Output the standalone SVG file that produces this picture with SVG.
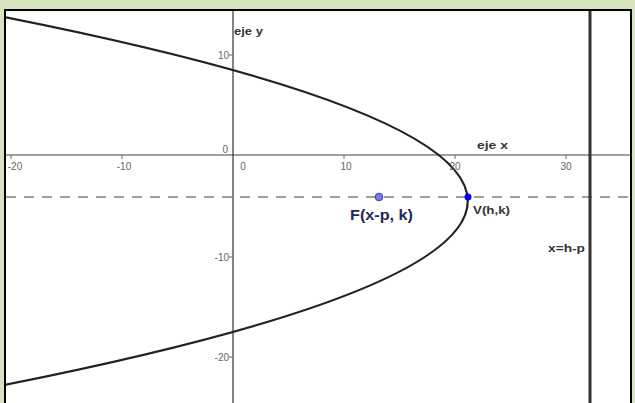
<svg xmlns="http://www.w3.org/2000/svg" width="635" height="403" viewBox="0 0 635 403">
<style>
.tick{font-family:"Liberation Sans",Arial,sans-serif;font-size:10px;fill:#666}
.lab{font-family:"Liberation Sans",Arial,sans-serif;font-weight:bold;fill:#333}
.tk{stroke:#666;stroke-width:1}
</style>
<defs>
<clipPath id="plot"><rect x="6" y="11" width="624" height="392"/></clipPath>
</defs>
<rect x="0" y="0" width="635" height="403" fill="#d6e3bc"/>
<rect x="5" y="10" width="626" height="400" fill="#ffffff" stroke="#000" stroke-width="2"/>
<g id="connectors" clip-path="url(#plot)">
<line id="x-axis" x1="6" y1="155" x2="631" y2="155" stroke="#808080" stroke-width="1.6"/>
<line id="y-axis" x1="233" y1="11" x2="233" y2="403" stroke="#333" stroke-width="1.2"/>
<line id="axis-line" x1="6" y1="197" x2="631" y2="197" stroke="#808080" stroke-width="1.5" stroke-dasharray="10 8"/>
<path id="parabola" d="M4,17 Q931.5,201 4,385" fill="none" stroke="#222" stroke-width="2.2"/>
<line id="directrix" x1="590" y1="11" x2="590" y2="403" stroke="#333" stroke-width="3"/>
<g id="ticks">
<line class="tk" x1="11" y1="155" x2="11" y2="159"/>
<line class="tk" x1="122" y1="155" x2="122" y2="159"/>
<line class="tk" x1="344" y1="155" x2="344" y2="159"/>
<line class="tk" x1="455" y1="155" x2="455" y2="159"/>
<line class="tk" x1="566" y1="155" x2="566" y2="159"/>
<line class="tk" x1="229" y1="55" x2="233" y2="55"/>
<line class="tk" x1="229" y1="257" x2="233" y2="257"/>
<line class="tk" x1="229" y1="357" x2="233" y2="357"/>
</g>
</g>
<g id="tick-labels">
<text class="tick" x="15" y="170" text-anchor="middle">-20</text>
<text class="tick" x="124" y="170" text-anchor="middle">-10</text>
<text class="tick" x="243" y="170" text-anchor="middle">0</text>
<text class="tick" x="346" y="170" text-anchor="middle">10</text>
<text class="tick" x="455" y="170" text-anchor="middle">20</text>
<text class="tick" x="566" y="170" text-anchor="middle">30</text>
<text class="tick" x="229" y="59" text-anchor="end">10</text>
<text class="tick" x="228" y="153" text-anchor="end">0</text>
<text class="tick" x="229" y="261" text-anchor="end">-10</text>
<text class="tick" x="229" y="361" text-anchor="end">-20</text>
</g>
<g id="eje-y"><text class="lab" x="234" y="35" font-size="11" textLength="29" lengthAdjust="spacingAndGlyphs">eje y</text></g>
<g id="eje-x"><text class="lab" x="477" y="149" font-size="11" textLength="31" lengthAdjust="spacingAndGlyphs">eje x</text></g>
<g id="focus">
<circle cx="379" cy="197" r="3.8" fill="#7b7be8" stroke="#3a3aa0" stroke-width="1"/>
<text x="350" y="220" font-family="'Liberation Sans',Arial,sans-serif" font-weight="bold" font-size="15" fill="#1f2a55" textLength="63" lengthAdjust="spacingAndGlyphs">F(x-p, k)</text>
</g>
<g id="vertex">
<circle cx="468" cy="197" r="3.5" fill="#0000ee"/>
<text class="lab" x="473" y="214" font-size="10" textLength="37" lengthAdjust="spacingAndGlyphs">V(h,k)</text>
</g>
<g id="directrix-label"><text class="lab" x="548" y="252" font-size="10" textLength="37" lengthAdjust="spacingAndGlyphs">x=h-p</text></g>
</svg>
